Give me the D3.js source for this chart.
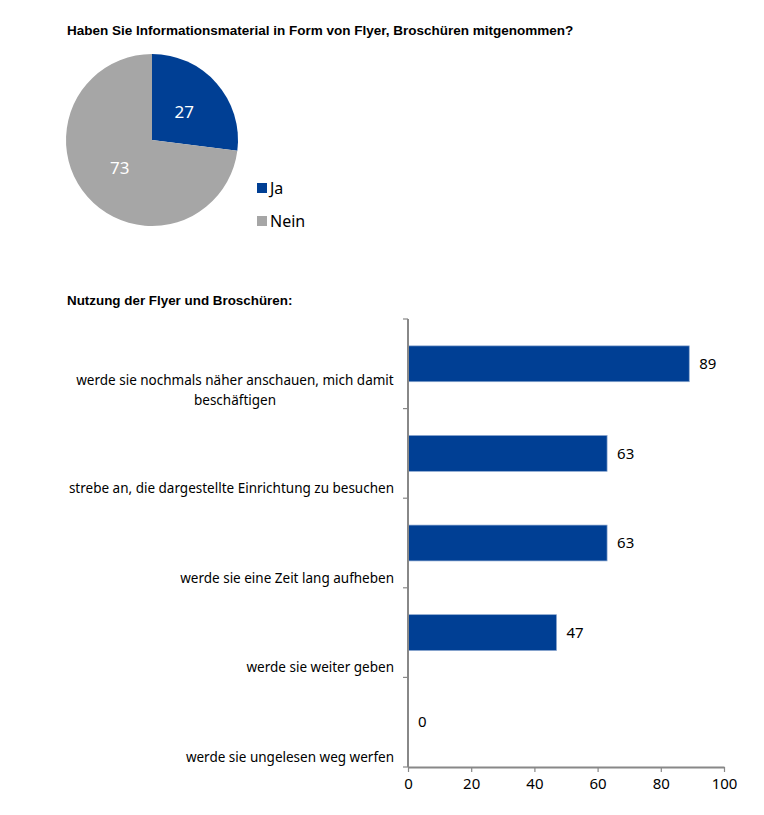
<!DOCTYPE html>
<html><head><meta charset="utf-8">
<script src="https://cdn.jsdelivr.net/npm/d3@7"></script>
<style>body{margin:0;background:#fff;} svg{display:block;}</style>
</head><body>
<script>
const pieCategories = ["Ja", "Nein"];
const pieValues = [27, 73];
const pieColors = ["#003f94", "#a6a6a6"];
const barCategories = [
  "werde sie nochmals näher anschauen, mich damit|beschäftigen",
  "strebe an, die dargestellte Einrichtung zu besuchen",
  "werde sie eine Zeit lang aufheben",
  "werde sie weiter geben",
  "werde sie ungelesen weg werfen"
];
const barValues = [89, 63, 63, 47, 0];
const xTicks = [0, 20, 40, 60, 80, 100];
const title1 = "Haben Sie Informationsmaterial in Form von Flyer, Broschüren mitgenommen?";
const title2 = "Nutzung der Flyer und Broschüren:";

const W = 764, H = 815;
const svg = d3.select("body").append("svg").attr("width", W).attr("height", H);
const labelFont = "'Noto Sans', 'Open Sans', sans-serif";
const titleFont = "'Liberation Sans Narrow', 'Arial Narrow', sans-serif";

svg.append("text").attr("x", 67).attr("y", 35).text(title1)
  .attr("font-family", titleFont).attr("font-weight", "bold").attr("font-size", 13.5).attr("fill", "#000");

// Pie
const cx = 152, cy = 140, r = 86;
const pie = d3.pie().sort(null).value(d => d)(pieValues);
const arc = d3.arc().innerRadius(0).outerRadius(r);
const gPie = svg.append("g").attr("transform", `translate(${cx},${cy})`);
gPie.selectAll("path").data(pie).join("path").attr("d", arc).attr("fill", (d, i) => pieColors[i]);
const labelArc = d3.arc().innerRadius(r * 0.5).outerRadius(r * 0.5);
gPie.selectAll("text").data(pie).join("text")
  .attr("transform", d => { const c = labelArc.centroid(d); return `translate(${c[0]},${c[1]})`; })
  .attr("text-anchor", "middle").attr("dy", "0.35em")
  .attr("font-family", labelFont).attr("font-size", 17).attr("fill", "#fff")
  .text(d => d.data);

// legend
const legY = d3.scalePoint().domain(pieCategories).range([188, 221]);
const leg = svg.append("g");
pieCategories.forEach((c, i) => {
  leg.append("rect").attr("x", 257).attr("y", legY(c) - 5).attr("width", 10).attr("height", 10).attr("fill", pieColors[i]);
  leg.append("text").attr("x", 270).attr("y", legY(c)).attr("dy", "0.35em").text(c)
    .attr("font-family", labelFont).attr("font-size", 16).attr("fill", "#000");
});

// Bar chart
svg.append("text").attr("x", 67).attr("y", 305).text(title2)
  .attr("font-family", titleFont).attr("font-weight", "bold").attr("font-size", 13.4).attr("fill", "#000");

const x = d3.scaleLinear().domain([0, 100]).range([408, 724]);
const y = d3.scaleBand().domain(barCategories).range([319, 767]).paddingInner(0.6).paddingOuter(0.3);
const yb = d3.scaleBand().domain(barCategories).range([319, 767]);
const g = svg.append("g");
g.selectAll("rect.bar").data(barValues).join("rect").attr("class", "bar")
  .attr("x", x(0)).attr("y", (d, i) => y(barCategories[i]))
  .attr("width", d => x(d) - x(0)).attr("height", y.bandwidth())
  .attr("fill", "#003f94").attr("stroke", d => d > 0 ? "#8aa6cf" : "none").attr("stroke-width", 0.7);
g.selectAll("text.val").data(barValues).join("text").attr("class", "val")
  .attr("x", d => x(d) + 10).attr("y", (d, i) => y(barCategories[i]) + y.bandwidth() / 2)
  .attr("dy", "0.35em").text(d => d)
  .attr("font-family", labelFont).attr("font-size", 15).attr("fill", "#000");

// category labels
barCategories.forEach((c, i) => {
  const lines = c.split("|");
  const bottom = yb(c) + yb.bandwidth();
  const t = g.append("text").attr("font-family", labelFont).attr("font-size", 13.5).attr("fill", "#000");
  if (lines.length === 1) {
    t.attr("x", 394).attr("y", bottom - 10).attr("dy", "0.35em").attr("text-anchor", "end").text(c);
  } else {
    t.attr("text-anchor", "middle");
    lines.forEach((l, j) => {
      t.append("tspan").attr("x", 235).attr("y", bottom - 8 - (lines.length - 1 - j) * 20).attr("dy", "0.35em").text(l);
    });
  }
});

// axes
const axisColor = "#888";
const yAxis = g.append("g").attr("transform", `translate(${x(0)},0)`);
yAxis.append("line").attr("x1", 0).attr("x2", 0).attr("y1", 319).attr("y2", 767).attr("stroke", axisColor).attr("stroke-width", 2);
const bandEdges = barCategories.map(c => yb(c)).concat([767]);
yAxis.selectAll("line.tick").data(bandEdges).join("line").attr("class", "tick")
  .attr("x1", -5).attr("x2", 0).attr("y1", d => d).attr("y2", d => d).attr("stroke", axisColor).attr("stroke-width", 1.2);

const xAxis = g.append("g").attr("transform", "translate(0,767)")
  .call(d3.axisBottom(x).tickValues(xTicks).tickSize(5).tickSizeOuter(0).tickFormat(d3.format("d")));
xAxis.select(".domain").attr("stroke", axisColor).attr("stroke-width", 2);
xAxis.selectAll(".tick line").attr("stroke", axisColor).attr("stroke-width", 1.2);
xAxis.selectAll(".tick text").attr("font-family", labelFont).attr("font-size", 15).attr("fill", "#000").attr("dy", "0.95em");
</script>
</body></html>
